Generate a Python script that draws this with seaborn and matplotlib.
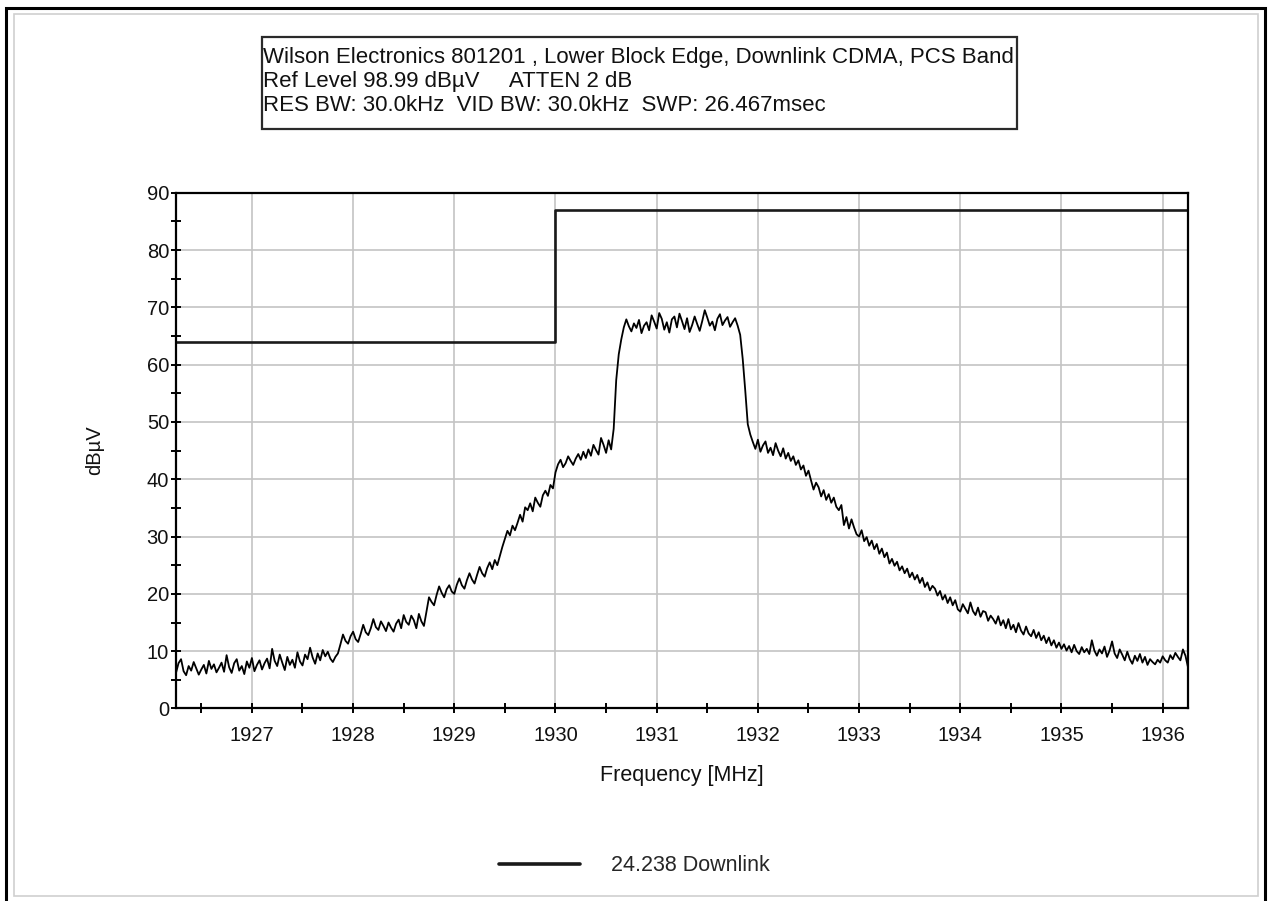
import matplotlib.pyplot as plt
import numpy as np
import pandas as pd
import seaborn as sns
from matplotlib.patches import Rectangle
from matplotlib.ticker import MultipleLocator

# header lines of the analyzer screen
HEADER_LINES = [
    "Wilson Electronics 801201 , Lower Block Edge, Downlink CDMA, PCS Band",
    "Ref Level 98.99 dB\u00b5V     ATTEN 2 dB",
    "RES BW: 30.0kHz  VID BW: 30.0kHz  SWP: 26.467msec",
]
TRACE_LABEL = "24.238 Downlink"

# sweep span (MHz), trace read every 0.025 MHz
FREQ_START = 1926.25
FREQ_STOP = 1936.25

LEVEL = [
    6.2, 7.9, 8.6, 6.5, 5.8, 7.4, 6.6, 8.1, 7.0, 5.9, 6.8, 7.6, 6.1, 8.3, 6.9, 7.7, 6.3, 7.1, 8.0, 6.4,
    9.3, 7.2, 6.2, 7.9, 8.6, 6.6, 7.4, 6.0, 8.2, 7.1, 8.8, 6.5, 7.6, 8.4, 6.8, 7.9, 8.7, 7.0, 10.4, 8.3,
    7.4, 9.4, 8.0, 6.7, 9.0, 7.6, 8.5, 7.1, 9.8, 8.2, 7.5, 9.4, 8.6, 10.6, 8.9, 7.8, 9.6, 8.4, 10.2, 9.1,
    9.9, 8.7, 8.1, 9.0, 9.6, 11.2, 12.9, 11.8, 11.3, 12.6, 13.4, 12.1, 11.6, 13.0, 14.6, 13.3, 12.8, 14.0, 15.6, 14.2,
    13.7, 15.2, 14.4, 13.5, 15.0, 14.1, 13.4, 14.8, 15.5, 14.0, 16.3, 15.1, 14.6, 16.2, 15.4, 14.0, 16.5, 15.2, 14.4, 16.9,
    19.4, 18.6, 18.0, 19.8, 21.3, 20.2, 19.4, 20.8, 21.5, 20.4, 20.0, 21.6, 22.7, 21.5, 20.9, 22.4, 23.6, 22.5, 21.8, 23.3,
    24.7, 23.6, 23.0, 24.5, 25.5, 24.3, 25.9, 25.0, 26.6, 28.2, 29.6, 31.0, 30.2, 31.9, 31.1, 32.4, 33.8, 32.6, 35.1, 34.6,
    35.8, 34.4, 36.8, 35.9, 35.2, 37.2, 38.0, 37.1, 39.0, 38.4, 41.2, 42.6, 43.4, 42.1, 42.8, 44.0, 43.2, 42.5, 43.6, 44.4,
    43.4, 44.8, 43.7, 45.2, 44.1, 46.0, 45.1, 44.3, 47.2, 46.0, 44.6, 46.8, 45.2, 48.8, 57.3, 61.8, 64.4, 66.5, 67.9, 66.7,
    65.8, 67.2, 66.4, 67.8, 65.5, 66.8, 67.4, 66.0, 68.6, 67.5, 66.3, 69.0, 68.0, 66.1, 67.4, 65.6, 67.9, 68.4, 66.5, 68.9,
    67.6, 66.2, 68.1, 65.7, 66.9, 68.4, 67.1, 65.9, 67.6, 69.5, 68.2, 66.8, 67.5, 66.0, 68.0, 68.8, 66.9, 67.7, 68.3, 66.6,
    67.4, 68.1, 66.8, 65.2, 61.0, 55.5, 49.6, 47.8, 46.5, 45.3, 46.9, 44.8, 45.9, 46.6, 44.6, 45.5, 44.2, 46.3, 45.0, 44.0,
    45.4, 43.6, 44.6, 43.2, 44.0, 42.5, 43.3, 41.7, 42.4, 40.6, 41.5, 39.8, 38.2, 39.4, 38.6, 37.0, 38.1, 36.4, 37.4, 35.9,
    36.8, 35.2, 34.6, 35.5, 32.0, 33.4, 31.4, 33.0, 31.6, 30.4, 30.0, 31.1, 29.2, 29.9, 28.4, 29.3, 27.8, 28.7, 27.0, 27.9,
    26.4, 27.2, 25.3, 26.1, 24.9, 25.6, 24.1, 24.8, 23.6, 24.4, 22.9, 23.7, 22.5, 23.3, 21.9, 22.8, 21.2, 22.0, 20.6, 21.4,
    20.9, 19.7, 20.5, 19.0, 19.8, 18.4, 19.4, 18.0, 18.9, 17.3, 16.9, 18.2, 17.4, 16.6, 18.5, 17.0, 16.3, 17.6, 16.0, 17.0,
    16.8, 15.3, 16.2, 15.6, 14.8, 16.1, 14.5, 15.4, 14.0, 15.6, 13.8, 14.6, 13.3, 14.9, 13.6, 12.9, 14.3, 13.1, 12.6, 13.7,
    12.3, 13.3, 11.9, 12.7, 11.4, 12.4, 11.0, 11.9, 10.6, 11.5, 10.4, 11.2, 10.1, 10.9, 9.8, 11.1, 10.0, 9.5, 10.7, 9.8,
    10.4, 9.5, 11.9, 10.1, 9.2, 10.3, 9.6, 10.8, 9.0, 10.1, 11.7, 9.6, 8.8, 10.3, 9.4, 8.4, 9.9, 8.6, 7.8, 9.2,
    8.3, 9.5, 8.0, 9.0, 7.6, 8.6, 8.1, 7.7, 8.5, 8.0, 9.1, 8.4, 8.0, 9.3, 8.6, 9.7, 9.0, 8.4, 10.3, 9.2,
    7.2,
]

# emission limit mask
LIMIT_FREQ = [1926.25, 1930.0, 1930.0, 1936.25]
LIMIT_LEVEL = [64, 64, 87, 87]

sns.set_theme(style="white")
plt.rcParams["font.family"] = ["Liberation Sans", "DejaVu Sans"]

FONT = 14.5
LABEL_FONT = 15.5

df = pd.DataFrame({
    "freq": np.linspace(FREQ_START, FREQ_STOP, len(LEVEL)),
    "level": LEVEL,
})
limit = pd.DataFrame({"freq": LIMIT_FREQ, "level": LIMIT_LEVEL})

fig = plt.figure(figsize=(12.68, 9.01), dpi=100)
fig.patch.set_facecolor("white")
ax = fig.add_axes([0.1388, 0.2137, 0.7981, 0.5724])

sns.lineplot(data=limit, x="freq", y="level", ax=ax, color="#1a1a1a",
             linewidth=1.9, sort=False, estimator=None, legend=False)
sns.lineplot(data=df, x="freq", y="level", ax=ax, color="black",
             linewidth=1.3, sort=False, estimator=None, label=TRACE_LABEL)

ax.set_xlim(FREQ_START, FREQ_STOP)
ax.set_ylim(0, 90)
ax.xaxis.set_major_locator(MultipleLocator(1))
ax.xaxis.set_minor_locator(MultipleLocator(0.5))
ax.yaxis.set_major_locator(MultipleLocator(10))
ax.yaxis.set_minor_locator(MultipleLocator(5))
ax.grid(True, which="major", color="#c4c4c4", linewidth=1.2)
ax.set_axisbelow(True)

for side in ["left", "right", "top", "bottom"]:
    ax.spines[side].set_visible(True)
    ax.spines[side].set_color("black")
    ax.spines[side].set_linewidth(1.6)

ax.tick_params(which="both", direction="inout", length=7, width=1.4,
               color="black", bottom=True, left=True, top=False, right=False)
ax.tick_params(axis="x", which="both", pad=9)
ax.tick_params(axis="y", which="both", pad=1.5)
ax.tick_params(labelsize=FONT, labelcolor="#111111")

ax.set_xlabel("Frequency [MHz]", fontsize=LABEL_FONT, color="#111111")
ax.set_ylabel("dB\u00b5V", fontsize=FONT, color="#111111")
ax.xaxis.set_label_coords(0.5, -0.11)
ax.yaxis.set_label_coords(-0.071, 0.5)

leg = ax.legend(loc="center", bbox_to_anchor=(0.5, 0.039),
                bbox_transform=fig.transFigure, frameon=False,
                fontsize=LABEL_FONT, handlelength=3.8, handletextpad=1.4)
for line in leg.get_lines():
    line.set_linewidth(2.6)
    line.set_color("#1a1a1a")

# header box
fig.patches.append(Rectangle((0.2066, 0.8568), 0.5955, 0.1021,
                             transform=fig.transFigure, facecolor="white",
                             edgecolor="#2a2a2a", linewidth=1.6))
for i, txt in enumerate(HEADER_LINES):
    fig.text(0.2078, 0.9365 - i * 0.0267, txt, fontsize=16,
             ha="left", va="center", color="#111111")

# screen frame
fig.patches.append(Rectangle((0.0047, -0.01), 0.9929, 1.001,
                             transform=fig.transFigure, fill=False,
                             edgecolor="black", linewidth=2.2))
fig.patches.append(Rectangle((0.0107, 0.0055), 0.9815, 0.979,
                             transform=fig.transFigure, fill=False,
                             edgecolor="#cfcfcf", linewidth=1.2))

fig.savefig("out.png", dpi=100)
